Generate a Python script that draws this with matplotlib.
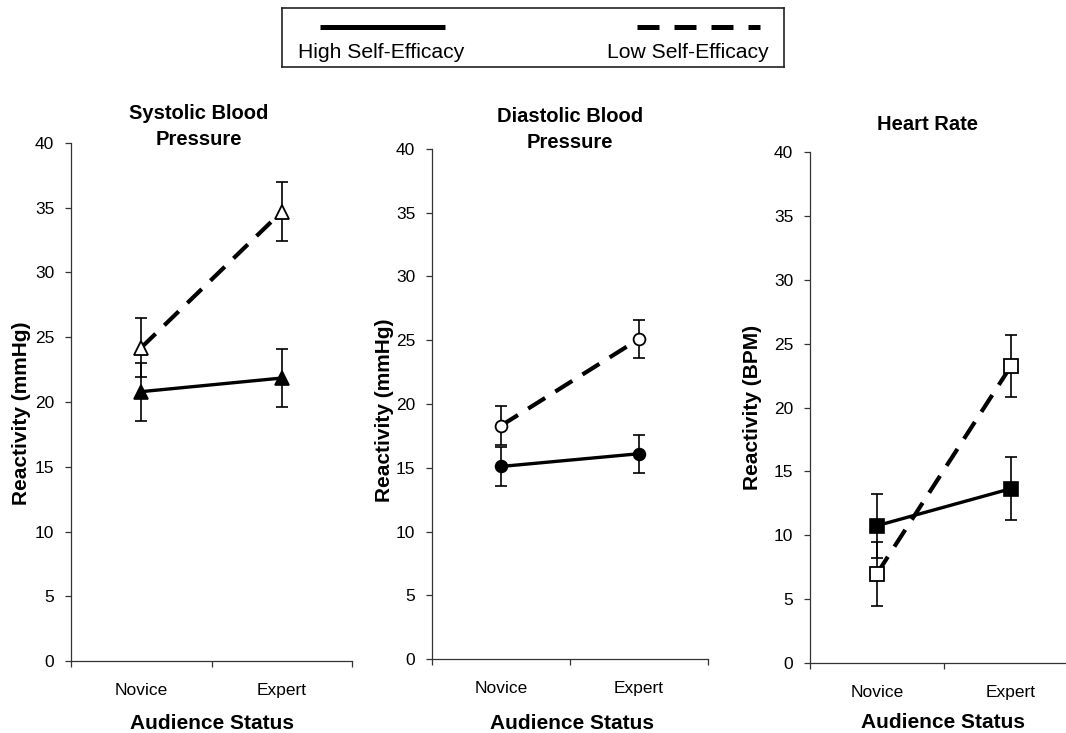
import numpy as np
import matplotlib
matplotlib.use("Agg")
import matplotlib.pyplot as plt
from matplotlib.lines import Line2D

plt.rcParams['font.family'] = ['Liberation Sans', 'DejaVu Sans']

# ---------------- data ----------------
categories = ['Novice', 'Expert']
series_names = ['High Self-Efficacy', 'Low Self-Efficacy']

sbp_high = [20.8, 21.85]
sbp_high_err = [2.25, 2.25]
sbp_low = [24.2, 34.7]
sbp_low_err = [2.3, 2.3]

dbp_high = [15.1, 16.1]
dbp_high_err = [1.5, 1.5]
dbp_low = [18.3, 25.1]
dbp_low_err = [1.55, 1.5]

hr_high = [10.75, 13.65]
hr_high_err = [2.5, 2.48]
hr_low = [7.0, 23.25]
hr_low_err = [2.5, 2.45]

panel_titles = ['Systolic Blood\nPressure', 'Diastolic Blood\nPressure', 'Heart Rate']
y_labels = ['Reactivity (mmHg)', 'Reactivity (mmHg)', 'Reactivity (BPM)']
x_label = 'Audience Status'
y_ticks = [0, 5, 10, 15, 20, 25, 30, 35, 40]

# ---------------- layout ----------------
W, H = 1066, 733
fig = plt.figure(figsize=(W / 100, H / 100), dpi=100)
fig.patch.set_facecolor('white')


def fig_axes(x0, x1, ytop, ybot):
    return fig.add_axes([x0 / W, 1 - ybot / H, (x1 - x0) / W, (ybot - ytop) / H])


panels = [
    dict(box=(71, 352, 143, 661), marker='^', ms=10.5,
         high=sbp_high, high_err=sbp_high_err, low=sbp_low, low_err=sbp_low_err,
         title_xy=(0.455, 1.032), ylab_xy=(-0.1744, 0.479), xlab_xy=(0.502, -0.1197)),
    dict(box=(432, 708, 149, 659), marker='o', ms=8.5,
         high=dbp_high, high_err=dbp_high_err, low=dbp_low, low_err=dbp_low_err,
         title_xy=(0.50, 1.038), ylab_xy=(-0.1703, 0.488), xlab_xy=(0.507, -0.1255)),
    dict(box=(810, 1078, 152, 663), marker='s', ms=9.5,
         high=hr_high, high_err=hr_high_err, low=hr_low, low_err=hr_low_err,
         title_xy=(0.4366, 1.053), ylab_xy=(-0.2164, 0.501), xlab_xy=(0.496, -0.1155)),
]

xpos = np.arange(len(categories)) + 0.5
spine_col = '#333333'

for i, p in enumerate(panels):
    ax = fig_axes(*p['box'])
    ax.set_xlim(0, 2)
    ax.set_ylim(0, 40)
    for s in ['top', 'right']:
        ax.spines[s].set_visible(False)
    for s in ['left', 'bottom']:
        ax.spines[s].set_color(spine_col)
        ax.spines[s].set_linewidth(0.9)

    # error bars
    ax.errorbar(xpos, p['high'], yerr=p['high_err'], fmt='none', ecolor='black',
                elinewidth=1.2, capsize=4.5, capthick=1.2, zorder=2)
    ax.errorbar(xpos, p['low'], yerr=p['low_err'], fmt='none', ecolor='black',
                elinewidth=1.2, capsize=4.5, capthick=1.2, zorder=2)
    # lines
    ax.plot(xpos, p['high'], color='black', lw=2.4, solid_capstyle='butt', zorder=3)
    ax.plot(xpos, p['low'], color='black', lw=3.0, dashes=(4.8, 2.9), zorder=3)
    # markers
    ax.plot(xpos, p['high'], linestyle='none', marker=p['marker'], ms=p['ms'],
            mfc='black', mec='black', mew=1.2, zorder=4)
    ax.plot(xpos, p['low'], linestyle='none', marker=p['marker'], ms=p['ms'],
            mfc='white', mec='black', mew=1.3, zorder=4)

    # ticks
    ax.set_yticks(y_ticks)
    ax.set_yticklabels([str(t) for t in y_ticks])
    ax.tick_params(axis='y', direction='out', length=4, width=0.9, color=spine_col,
                   labelsize=12.5, pad=8)
    ax.set_xticks([0, 1, 2])
    ax.set_xticklabels(['', '', ''])
    ax.tick_params(axis='x', which='major', direction='out', length=4, width=0.9,
                   color=spine_col)
    ax.set_xticks(xpos, minor=True)
    ax.set_xticklabels(categories, minor=True)
    ax.tick_params(axis='x', which='minor', length=0, labelsize=12.5, pad=16)

    # title
    ax.set_title(panel_titles[i], fontsize=14.5, fontweight='bold',
                 x=p['title_xy'][0], y=p['title_xy'][1], pad=0,
                 va='center', linespacing=1.45)

    # y label
    ax.set_ylabel(y_labels[i], fontsize=15, fontweight='bold')
    ax.yaxis.label.set_va('center')
    ax.yaxis.set_label_coords(*p['ylab_xy'])

    # x label
    ax.set_xlabel(x_label, fontsize=15, fontweight='bold')
    ax.xaxis.label.set_va('center')
    ax.xaxis.set_label_coords(*p['xlab_xy'])

# ---------------- legend box ----------------
lx0, lx1, ly0, ly1 = 282, 784, 8, 67
lax = fig.add_axes([lx0 / W, 1 - ly1 / H, (lx1 - lx0) / W, (ly1 - ly0) / H])
lax.set_xlim(lx0, lx1)
lax.set_ylim(ly1, ly0)
lax.set_xticks([])
lax.set_yticks([])
for s in lax.spines.values():
    s.set_linewidth(1.2)
    s.set_color('#222222')

lax.add_line(Line2D([320, 445], [27, 27], color='black', lw=3.6, solid_capstyle='butt'))
lax.add_line(Line2D([637, 760], [27, 27], color='black', lw=3.6, dashes=(4.4, 3.0)))
lax.text(298, 52, series_names[0], fontsize=15.2, ha='left', va='center')
lax.text(607, 52, series_names[1], fontsize=15.2, ha='left', va='center')

fig.savefig('out.png', dpi=100, facecolor='white')
